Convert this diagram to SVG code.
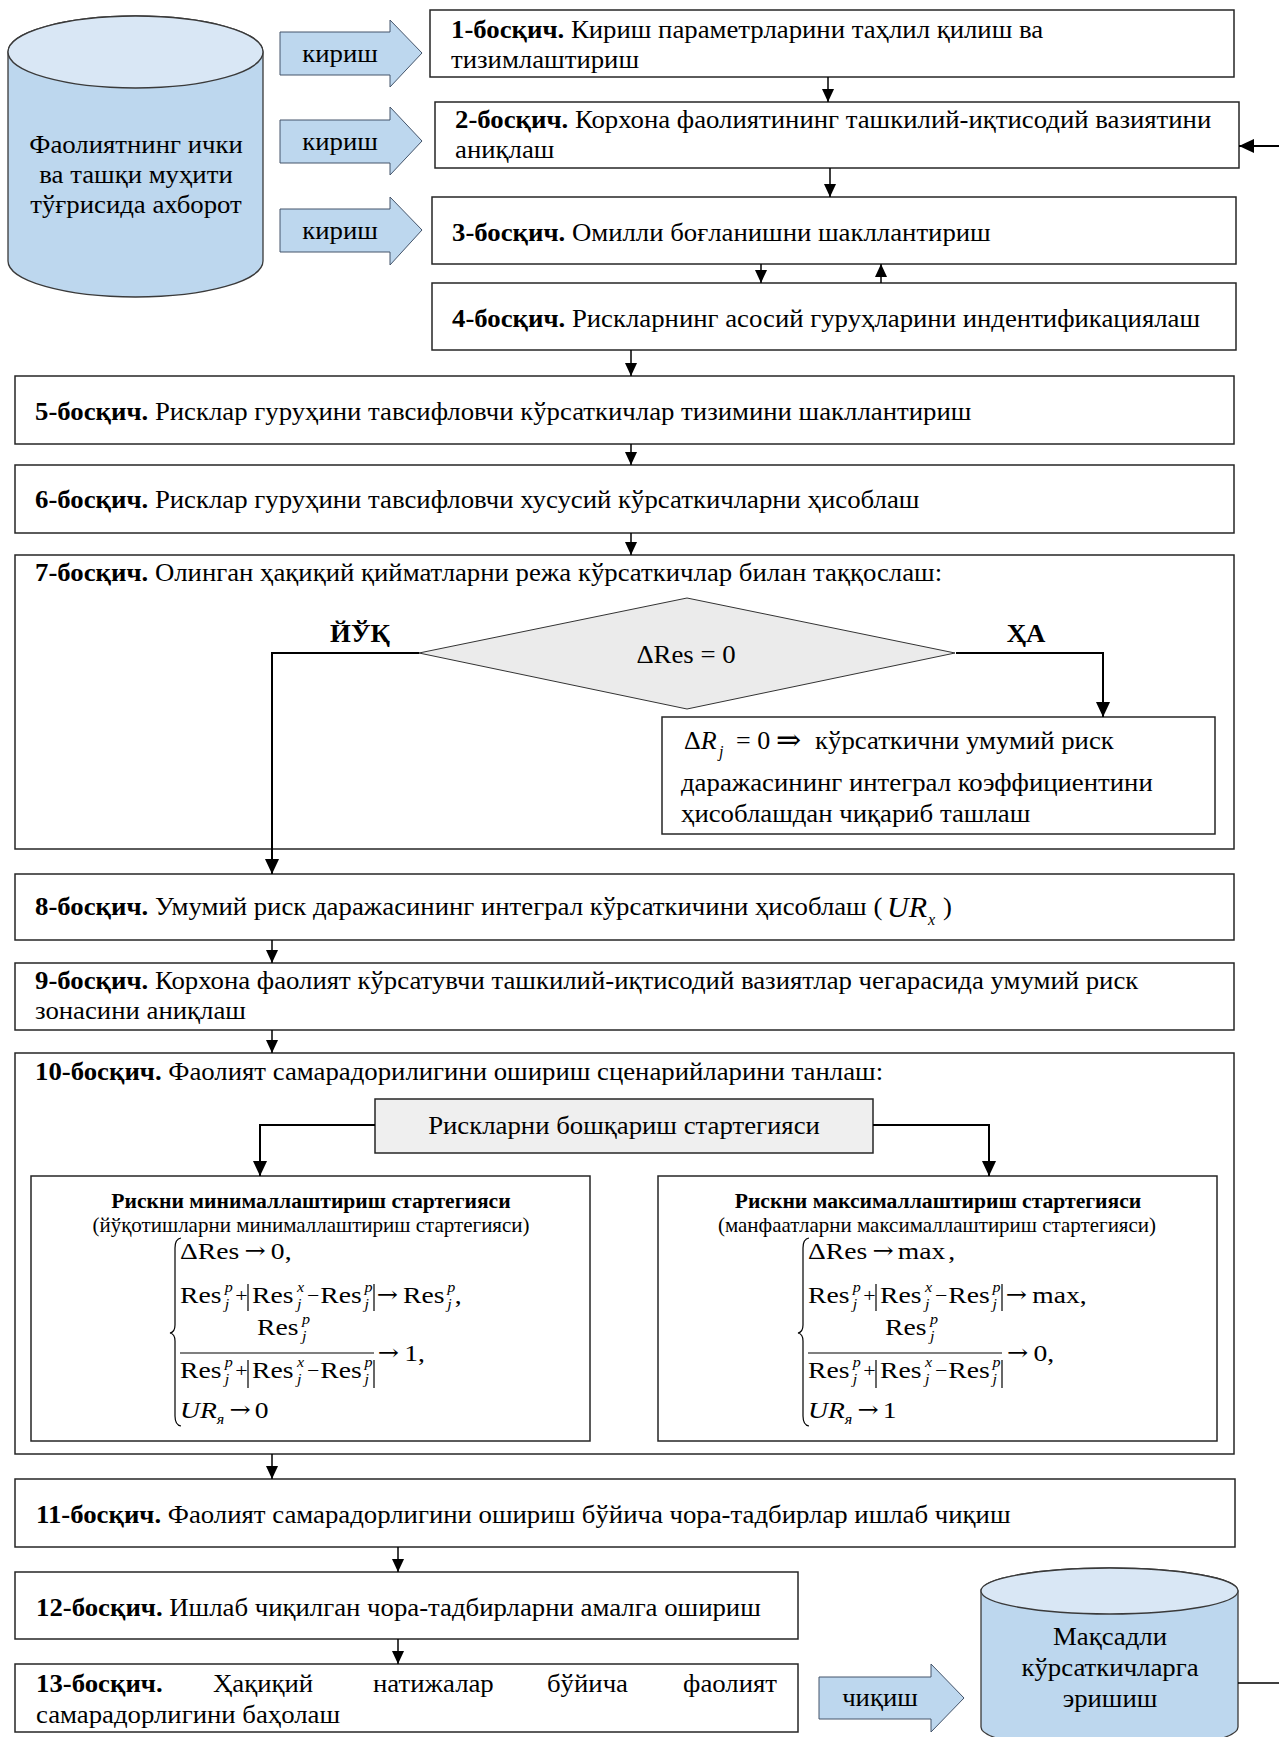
<svg xmlns="http://www.w3.org/2000/svg" width="1279" height="1737" viewBox="0 0 1279 1737">
<defs>
<style>
.t{font-family:"Liberation Serif","Times New Roman","DejaVu Serif",serif;font-size:26px;fill:#000}
.b{font-weight:bold}
.i{font-style:italic}
.m{font-family:"Liberation Serif","Times New Roman","DejaVu Serif",serif;font-size:24px;fill:#000}
.ar{font-family:"DejaVu Serif",serif;font-size:22px;fill:#000}
.op{font-size:19px}
.s{font-family:"Liberation Serif","Times New Roman",serif;font-size:14px;font-style:italic;fill:#000}
.h1{font-size:21px;font-weight:bold}
.h2{font-size:20.4px}
.box{fill:#fff;stroke:#262626;stroke-width:1.5}
.gbox{fill:#efefef;stroke:#262626;stroke-width:1.5}
.cyl{fill:#bdd7ee;stroke:#3a3a3a;stroke-width:1.3}
.cylt{fill:#d9e7f5;stroke:#3a3a3a;stroke-width:1.3}
.ba{fill:#bdd7ee;stroke:#44546a;stroke-width:1}
.c{fill:none;stroke:#000;stroke-width:1.5}
.c2{fill:none;stroke:#000;stroke-width:2}
.ml{stroke:#000;stroke-width:1.2;fill:none}
</style>
<marker id="a" viewBox="0 0 14 14" markerUnits="userSpaceOnUse" markerWidth="14" markerHeight="13" refX="14" refY="7" orient="auto"><path d="M0,0.5 L14,7 L0,13.5 z" fill="#000"/></marker>
<marker id="a2" viewBox="0 0 16 16" markerUnits="userSpaceOnUse" markerWidth="16" markerHeight="15" refX="16" refY="8" orient="auto"><path d="M0,0.5 L16,8 L0,15.5 z" fill="#000"/></marker>
</defs>
<rect width="1279" height="1737" fill="#fff"/>

<g id="db-in">
<path class="cyl" d="M8,52 A127.5,36 0 0,1 263,52 V261 A127.5,36 0 0,1 8,261 Z"/>
<ellipse class="cylt" cx="135.5" cy="52" rx="127.5" ry="36"/>
<text class="t" text-anchor="middle" transform="matrix(1.03 0 0 1 136 153)">Фаолиятнинг ички</text>
<text class="t" text-anchor="middle" transform="matrix(1.03 0 0 1 136 183)">ва ташқи муҳити</text>
<text class="t" text-anchor="middle" transform="matrix(1.03 0 0 1 136 213)">тўғрисида ахборот</text>
</g>

<g id="in1">
<polygon class="ba" points="280,32 390,32 390,20 422,53 390,87 390,75 280,75"/>
<text class="t" text-anchor="middle" transform="matrix(1.03 0 0 1 340 62)">кириш</text>
</g>
<g id="in2">
<polygon class="ba" points="280,120 390,120 390,107 422,141 390,175 390,163 280,163"/>
<text class="t" text-anchor="middle" transform="matrix(1.03 0 0 1 340 150)">кириш</text>
</g>
<g id="in3">
<polygon class="ba" points="280,209 390,209 390,197 422,230 390,265 390,252 280,252"/>
<text class="t" text-anchor="middle" transform="matrix(1.03 0 0 1 340 239)">кириш</text>
</g>

<g id="step1">
<rect class="box" x="430" y="10" width="804" height="67"/>
<text class="t" transform="matrix(1.03 0 0 1 451 38)"><tspan class="b">1-босқич.</tspan> Кириш параметрларини таҳлил қилиш ва</text>
<text class="t" transform="matrix(1.03 0 0 1 451 68)">тизимлаштириш</text>
</g>
<g id="step2">
<rect class="box" x="435" y="102" width="804" height="66"/>
<text class="t" transform="matrix(1.03 0 0 1 455 128)"><tspan class="b">2-босқич.</tspan> Корхона фаолиятининг ташкилий-иқтисодий вазиятини</text>
<text class="t" transform="matrix(1.03 0 0 1 455 158)">аниқлаш</text>
</g>
<g id="step3">
<rect class="box" x="432" y="197" width="804" height="67"/>
<text class="t" transform="matrix(1.03 0 0 1 452 241)"><tspan class="b">3-босқич.</tspan> Омилли боғланишни шакллантириш</text>
</g>
<g id="step4">
<rect class="box" x="432" y="283" width="804" height="67"/>
<text class="t" transform="matrix(1.03 0 0 1 452 327)"><tspan class="b">4-босқич.</tspan> Рискларнинг асосий гуруҳларини индентификациялаш</text>
</g>
<g id="step5">
<rect class="box" x="15" y="376" width="1219" height="68"/>
<text class="t" transform="matrix(1.03 0 0 1 35 420)"><tspan class="b">5-босқич.</tspan> Рисклар гуруҳини тавсифловчи кўрсаткичлар тизимини шакллантириш</text>
</g>
<g id="step6">
<rect class="box" x="15" y="465" width="1219" height="68"/>
<text class="t" transform="matrix(1.03 0 0 1 35 508)"><tspan class="b">6-босқич.</tspan> Рисклар гуруҳини тавсифловчи хусусий кўрсаткичларни ҳисоблаш</text>
</g>
<g id="step7">
<rect class="box" x="15" y="555" width="1219" height="294"/>
<text class="t" transform="matrix(1.03 0 0 1 35 581)"><tspan class="b">7-босқич.</tspan> Олинган ҳақиқий қийматларни режа кўрсаткичлар билан таққослаш:</text>
</g>
<g id="decision">
<polygon points="419,653 687,598 955,653 687,709" fill="#ebebeb" stroke="#333" stroke-width="1"/>
<text class="t" text-anchor="middle" transform="matrix(1.03 0 0 1 686 663)">ΔRes = 0</text>
</g>
<g id="exclude">
<rect class="box" x="662" y="717" width="553" height="117"/>
<text class="t" x="684" y="749">Δ<tspan class="i">R</tspan></text>
<text class="s" style="font-size:16px" x="719" y="757">j</text>
<text class="t" x="736" y="749">= 0</text>
<text class="ar" style="font-size:30px" x="776" y="750">⇒</text>
<text class="t" transform="matrix(1.03 0 0 1 815 749)">кўрсаткични умумий риск</text>
<text class="t" transform="matrix(1.03 0 0 1 681 791)">даражасининг интеграл коэффициентини</text>
<text class="t" transform="matrix(1.03 0 0 1 681 822)">ҳисоблашдан чиқариб ташлаш</text>
</g>
<g id="step8">
<rect class="box" x="15" y="874" width="1219" height="66"/>
<text class="t" transform="matrix(1.03 0 0 1 35 915)"><tspan class="b">8-босқич.</tspan> Умумий риск даражасининг интеграл кўрсаткичини ҳисоблаш (</text>
<text class="t i" x="887" y="917" style="font-size:30px">UR</text>
<text class="s" style="font-size:16px" x="928" y="925">x</text>
<text class="t" transform="matrix(1.03 0 0 1 943 915)">)</text>
</g>
<g id="step9">
<rect class="box" x="15" y="963" width="1219" height="67"/>
<text class="t" transform="matrix(1.03 0 0 1 35 989)"><tspan class="b">9-босқич.</tspan> Корхона фаолият кўрсатувчи ташкилий-иқтисодий вазиятлар чегарасида умумий риск</text>
<text class="t" transform="matrix(1.03 0 0 1 35 1019)">зонасини аниқлаш</text>
</g>
<g id="step10">
<rect class="box" x="15" y="1053" width="1219" height="401"/>
<text class="t" transform="matrix(1.03 0 0 1 35 1080)"><tspan class="b">10-босқич.</tspan> Фаолият самарадорилигини ошириш сценарийларини танлаш:</text>
</g>
<g id="strategy">
<rect class="gbox" x="375" y="1099" width="498" height="54"/>
<text class="t" text-anchor="middle" transform="matrix(1.03 0 0 1 624 1134)">Рискларни бошқариш стартегияси</text>
</g>
<g id="minstrat">
<rect class="box" x="31" y="1176" width="559" height="265"/>
<text class="t h1" text-anchor="middle" transform="matrix(1.03 0 0 1 311 1208)">Рискни минималлаштириш стартегияси</text>
<text class="t h2" text-anchor="middle" transform="matrix(1.03 0 0 1 311 1232)">(йўқотишларни минималлаштириш стартегияси)</text>
<path class="ml" d="M181,1238 Q175,1239 175,1248 V1325 Q175,1332 170,1333 Q175,1334 175,1341 V1416 Q175,1425 181,1426"/>
<line class="ml" x1="248" y1="1284" x2="248" y2="1311"/>
<line class="ml" x1="374" y1="1284" x2="374" y2="1311"/>
<line class="ml" x1="180" y1="1353" x2="374" y2="1353"/>
<line class="ml" x1="248" y1="1360" x2="248" y2="1388"/>
<line class="ml" x1="374" y1="1360" x2="374" y2="1388"/>
<g transform="translate(180 0) scale(1.15 1)">
<text class="m" x="0" y="1259">ΔRes</text><text class="ar" x="56" y="1258">→</text><text class="m" x="79" y="1259">0,</text>
<text class="m" x="0" y="1303">Res</text><text class="s" x="39" y="1292">p</text><text class="s" x="39" y="1309">j</text>
<text class="m op" x="48" y="1302">+</text>
<text class="m" x="62.6" y="1303">Res</text><text class="s" x="101.7" y="1292">x</text><text class="s" x="101.7" y="1309">j</text>
<text class="m op" x="110.5" y="1302">−</text>
<text class="m" x="122" y="1303">Res</text><text class="s" x="160.5" y="1292">p</text><text class="s" x="160.5" y="1309">j</text>
<text class="ar" x="171" y="1302">→</text>
<text class="m" x="194" y="1303">Res</text><text class="s" x="232.5" y="1292">p</text><text class="s" x="232.5" y="1309">j</text><text class="m" x="239" y="1303">,</text>
<text class="m" x="67" y="1335">Res</text><text class="s" x="106" y="1324">p</text><text class="s" x="106" y="1341">j</text>
<text class="m" x="0" y="1378">Res</text><text class="s" x="39" y="1367">p</text><text class="s" x="39" y="1384">j</text>
<text class="m op" x="48" y="1377">+</text>
<text class="m" x="62.6" y="1378">Res</text><text class="s" x="101.7" y="1367">x</text><text class="s" x="101.7" y="1384">j</text>
<text class="m op" x="110.5" y="1377">−</text>
<text class="m" x="122" y="1378">Res</text><text class="s" x="160.5" y="1367">p</text><text class="s" x="160.5" y="1384">j</text>
<text class="ar" x="172" y="1360">→</text><text class="m" x="195" y="1361">1,</text>
<text class="m i" x="0" y="1418">UR</text><text class="s" x="32" y="1424">я</text><text class="ar" x="43" y="1417">→</text><text class="m" x="65" y="1418">0</text>
</g>
</g>
<g id="maxstrat">
<rect class="box" x="658" y="1176" width="559" height="265"/>
<text class="t h1" text-anchor="middle" transform="matrix(1.03 0 0 1 938 1208)">Рискни максималлаштириш стартегияси</text>
<text class="t h2" text-anchor="middle" transform="matrix(1.03 0 0 1 937 1232)">(манфаатларни максималлаштириш стартегияси)</text>
<path class="ml" d="M809,1238 Q803,1239 803,1248 V1325 Q803,1332 798,1333 Q803,1334 803,1341 V1416 Q803,1425 809,1426"/>
<line class="ml" x1="876" y1="1284" x2="876" y2="1311"/>
<line class="ml" x1="1002" y1="1284" x2="1002" y2="1311"/>
<line class="ml" x1="808" y1="1353" x2="1002" y2="1353"/>
<line class="ml" x1="876" y1="1360" x2="876" y2="1388"/>
<line class="ml" x1="1002" y1="1360" x2="1002" y2="1388"/>
<g transform="translate(808 0) scale(1.15 1)">
<text class="m" x="0" y="1259">ΔRes</text><text class="ar" x="56" y="1258">→</text><text class="m" x="78" y="1259">max</text><text class="m" x="122" y="1259">,</text>
<text class="m" x="0" y="1303">Res</text><text class="s" x="39" y="1292">p</text><text class="s" x="39" y="1309">j</text>
<text class="m op" x="48" y="1302">+</text>
<text class="m" x="62.6" y="1303">Res</text><text class="s" x="101.7" y="1292">x</text><text class="s" x="101.7" y="1309">j</text>
<text class="m op" x="110.5" y="1302">−</text>
<text class="m" x="122" y="1303">Res</text><text class="s" x="160.5" y="1292">p</text><text class="s" x="160.5" y="1309">j</text>
<text class="ar" x="172" y="1302">→</text>
<text class="m" x="195" y="1303">max,</text>
<text class="m" x="67" y="1335">Res</text><text class="s" x="106" y="1324">p</text><text class="s" x="106" y="1341">j</text>
<text class="m" x="0" y="1378">Res</text><text class="s" x="39" y="1367">p</text><text class="s" x="39" y="1384">j</text>
<text class="m op" x="48" y="1377">+</text>
<text class="m" x="62.6" y="1378">Res</text><text class="s" x="101.7" y="1367">x</text><text class="s" x="101.7" y="1384">j</text>
<text class="m op" x="110.5" y="1377">−</text>
<text class="m" x="122" y="1378">Res</text><text class="s" x="160.5" y="1367">p</text><text class="s" x="160.5" y="1384">j</text>
<text class="ar" x="173" y="1360">→</text><text class="m" x="196" y="1361">0,</text>
<text class="m i" x="0" y="1418">UR</text><text class="s" x="32" y="1424">я</text><text class="ar" x="43" y="1417">→</text><text class="m" x="65" y="1418">1</text>
</g>
</g>
<g id="step11">
<rect class="box" x="15" y="1479" width="1220" height="68"/>
<text class="t" transform="matrix(1.03 0 0 1 36 1523)"><tspan class="b">11-босқич.</tspan> Фаолият самарадорлигини ошириш бўйича чора-тадбирлар ишлаб чиқиш</text>
</g>
<g id="step12">
<rect class="box" x="15" y="1572" width="783" height="67"/>
<text class="t" transform="matrix(1.03 0 0 1 36 1616)"><tspan class="b">12-босқич.</tspan> Ишлаб чиқилган чора-тадбирларни амалга ошириш</text>
</g>
<g id="step13">
<rect class="box" x="15" y="1664" width="783" height="68"/>
<text class="t b" transform="matrix(1.03 0 0 1 36 1692)">13-босқич.</text>
<text class="t" transform="matrix(1.03 0 0 1 213 1692)">Ҳақиқий</text>
<text class="t" transform="matrix(1.03 0 0 1 373 1692)">натижалар</text>
<text class="t" transform="matrix(1.03 0 0 1 547 1692)">бўйича</text>
<text class="t" text-anchor="end" transform="matrix(1.03 0 0 1 777 1692)">фаолият</text>
<text class="t" transform="matrix(1.03 0 0 1 36 1723)">самарадорлигини баҳолаш</text>
</g>
<g id="out">
<polygon class="ba" points="819,1677 931,1677 931,1664 964,1698 931,1732 931,1719 819,1719"/>
<text class="t" text-anchor="middle" transform="matrix(1.03 0 0 1 880 1706)">чиқиш</text>
</g>
<g id="db-out">
<path class="cyl" d="M981,1591 A128.5,23 0 0,1 1238,1591 V1727 A128.5,23 0 0,1 981,1727 Z"/>
<ellipse class="cylt" cx="1109.5" cy="1591" rx="128.5" ry="23"/>
<text class="t" text-anchor="middle" transform="matrix(1.03 0 0 1 1110 1645)">Мақсадли</text>
<text class="t" text-anchor="middle" transform="matrix(1.03 0 0 1 1110 1676)">кўрсаткичларга</text>
<text class="t" text-anchor="middle" transform="matrix(1.03 0 0 1 1110 1707)">эришиш</text>
</g>

<g id="labels">
<text class="t b" text-anchor="middle" transform="matrix(1.03 0 0 1 360 642)">ЙЎҚ</text>
<text class="t b" text-anchor="middle" transform="matrix(1.03 0 0 1 1026 642)">ҲА</text>
</g>

<g id="connectors">
<line class="c" x1="828" y1="77" x2="828" y2="102" marker-end="url(#a)"/>
<line class="c" x1="830" y1="168" x2="830" y2="197" marker-end="url(#a)"/>
<line class="c" x1="761" y1="264" x2="761" y2="283" marker-end="url(#a)"/>
<line class="c" x1="881" y1="283" x2="881" y2="264" marker-end="url(#a)"/>
<line class="c" x1="631" y1="350" x2="631" y2="376" marker-end="url(#a)"/>
<line class="c" x1="631" y1="444" x2="631" y2="465" marker-end="url(#a)"/>
<line class="c" x1="631" y1="533" x2="631" y2="555" marker-end="url(#a)"/>
<polyline class="c2" points="419,653 272,653 272,874" marker-end="url(#a2)"/>
<polyline class="c2" points="956,653 1103,653 1103,717" marker-end="url(#a2)"/>
<line class="c" x1="272" y1="940" x2="272" y2="963" marker-end="url(#a)"/>
<line class="c" x1="272" y1="1030" x2="272" y2="1053" marker-end="url(#a)"/>
<polyline class="c2" points="375,1125 260,1125 260,1176" marker-end="url(#a2)"/>
<polyline class="c2" points="873,1125 989,1125 989,1176" marker-end="url(#a2)"/>
<line class="c" x1="272" y1="1454" x2="272" y2="1479" marker-end="url(#a)"/>
<line class="c" x1="398" y1="1547" x2="398" y2="1572" marker-end="url(#a)"/>
<line class="c" x1="398" y1="1639" x2="398" y2="1664" marker-end="url(#a)"/>
<line class="c2" x1="1279" y1="146" x2="1239" y2="146" marker-end="url(#a2)"/>
<line class="c" x1="1238" y1="1683" x2="1279" y2="1683"/>
</g>
</svg>
